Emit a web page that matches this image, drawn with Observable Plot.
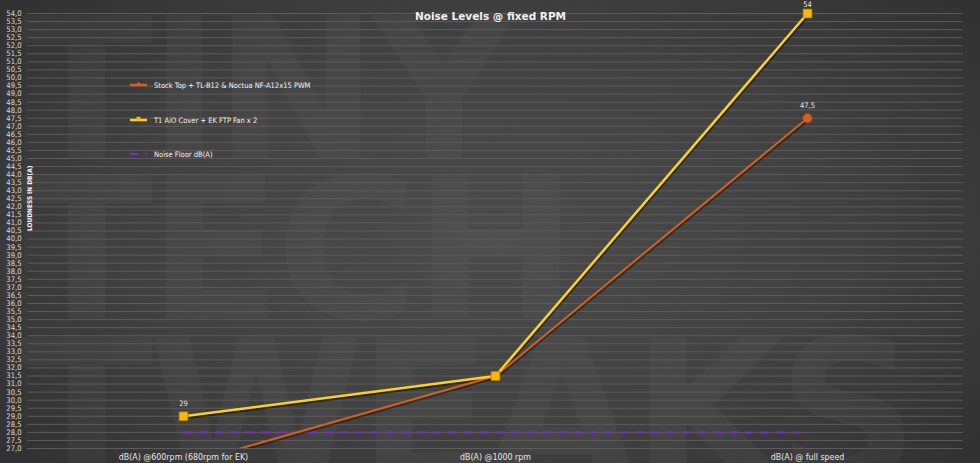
<!DOCTYPE html>
<html>
<head>
<meta charset="utf-8">
<script src="https://cdn.jsdelivr.net/npm/d3@7"></script>
<script src="https://cdn.jsdelivr.net/npm/@observablehq/plot@0.6"></script>
<style>
  html, body { margin: 0; padding: 0; background: #2b2b2b; }
  #wrap {
    position: relative; width: 980px; height: 463px; overflow: hidden;
    background: radial-gradient(ellipse 72% 85% at 50% 50%, #4b4b4b 0%, #414141 50%, #2d2d2d 100%);
    font-family: "Liberation Sans Narrow", "DejaVu Sans Condensed", "Liberation Sans", sans-serif;
  }
  .wm {
    position: absolute; left: 20px; margin: 0; white-space: nowrap;
    font-family: "DejaVu Sans", sans-serif; font-weight: bold; font-size: 196px; line-height: 1;
    color: rgba(255,255,255,0.03); letter-spacing: -6px;
  }
  #chart { position: absolute; left: 0; top: 0; }
  #legend { position: absolute; left: 130px; top: 0; width: 300px; height: 170px; color: #f2f2f2; font-size: 7.5px; }
  .li { position: absolute; left: 0; display: flex; align-items: center; white-space: nowrap; }
  .li svg { margin-right: 7px; }
</style>
</head>
<body>
<div id="wrap">
  <div class="wm" style="top:-8px">TINY</div>
  <div class="wm" style="top:152px">TECH</div>
  <div class="wm" style="top:314px">TWEAKS</div>
  <div id="chart"></div>
  <div id="legend"></div>
</div>
<script>
const categories = ["dB(A) @600rpm (680rpm for EK)", "dB(A) @1000 rpm", "dB(A) @ full speed"];
const stockTop = [26, 31.5, 47.5];
const t1Aio = [29, 31.5, 54];
const noiseFloor = [28, 28, 28];
const seriesNames = ["Stock Top + TL-B12 & Noctua NF-A12x15 PWM", "T1 AiO Cover + EK FTP Fan x 2", "Noise Floor dB(A)"];
const yTicks = d3.range(27, 54.001, 0.5);
const title = "Noise Levels @ fixed RPM";
const yTitle = "LOUDNESS IN DB(A)";

const orange = "#d4601c", yellow = "#ffd21a", yellowMark = "#f7b80a", purple = "#7a2fc0";
const fmt = d => d.toFixed(1).replace(".", ",");
const lbl = v => String(v).replace(".", ",");

const table = categories.map((c, i) => ({cat: c, stock: stockTop[i], t1: t1Aio[i], floor: noiseFloor[i]}));
const lastIdx = categories.length - 1;

const chart = Plot.plot({
  width: 980, height: 463,
  marginLeft: 27, marginRight: 17, marginTop: 13, marginBottom: 15,
  style: {background: "transparent", fontFamily: '"Liberation Sans Narrow", "DejaVu Sans Condensed", "Liberation Sans", sans-serif', overflow: "visible"},
  x: {type: "point", domain: categories, padding: 0.5, axis: null},
  y: {domain: [27, 54], axis: null},
  marks: [
    Plot.gridY(yTicks, {stroke: "#5c5c5c", strokeOpacity: 1, strokeWidth: 1}),
    Plot.axisY(yTicks, {tickSize: 0, tickPadding: 6, tickFormat: fmt, fontSize: 7.6, fill: "#dcdcdc", label: null}),
    Plot.axisX({tickSize: 0, tickPadding: 5, fontSize: 8.8, fill: "#e6e6e6", label: null}),
    Plot.text([yTitle], {frameAnchor: "left", rotate: -90, dx: 2, fontSize: 6.5, fontWeight: "bold", fill: "#f4f4f4"}),
    Plot.text([title], {frameAnchor: "top", dx: -5, dy: 6, fontSize: 10.5, fontWeight: "bold", fill: "#f2f2f2",
      fontFamily: '"DejaVu Sans", sans-serif', lineAnchor: "bottom", letterSpacing: "0.4px"}),
    Plot.lineY(table, {x: "cat", y: "floor", stroke: purple, strokeWidth: 2, strokeDasharray: "8,7.6"}),
    // shadows
    Plot.lineY(table, {x: "cat", y: "stock", stroke: "#000", strokeOpacity: 0.35, strokeWidth: 2.5, dx: 1, dy: 1.5, clip: true}),
    Plot.lineY(table, {x: "cat", y: "t1", stroke: "#000", strokeOpacity: 0.45, strokeWidth: 3.5, dx: 0.5, dy: 1.5, clip: true}),
    Plot.lineY(table, {x: "cat", y: "stock", stroke: orange, strokeWidth: 2, clip: true}),
    Plot.dot(table.filter(d => d.stock >= 27), {x: "cat", y: "stock", r: 4.6, fill: orange, stroke: "#b04a10", strokeWidth: 0.8}),
    Plot.lineY(table, {x: "cat", y: "t1", stroke: yellow, strokeWidth: 2.5, clip: true}),
    Plot.dot(table, {x: "cat", y: "t1", symbol: "square", r: 5, fill: yellowMark, stroke: "#a87a00", strokeWidth: 0.8}),
    Plot.text(table.filter((d, i) => i === 0), {x: "cat", y: "t1", text: d => lbl(d.t1), dy: -13, fontSize: 7.5, fill: "#e8e8e8"}),
    Plot.text(table.filter((d, i) => i === lastIdx), {x: "cat", y: "t1", text: d => lbl(d.t1), dy: -8.5, fontSize: 7.5, fill: "#e8e8e8"}),
    Plot.text(table.filter((d, i) => i === lastIdx), {x: "cat", y: "stock", text: d => lbl(d.stock), dy: -12.5, fontSize: 7.5, fill: "#e8e8e8"})
  ]
});
document.getElementById("chart").appendChild(chart);

// legend
const legendItems = [
  {name: seriesNames[0], color: orange, kind: "circle", top: 80},
  {name: seriesNames[1], color: yellow, kind: "square", top: 115},
  {name: seriesNames[2], color: purple, kind: "dash", top: 149}
];
const legend = d3.select("#legend");
for (const it of legendItems) {
  const row = legend.append("div").attr("class", "li").style("top", it.top + "px");
  const s = row.append("svg").attr("width", 17).attr("height", 10);
  if (it.kind === "dash") {
    s.append("line").attr("x1", 0).attr("x2", 17).attr("y1", 5).attr("y2", 5)
      .attr("stroke", it.color).attr("stroke-width", 2).attr("stroke-dasharray", "8.5,7");
  } else {
    s.append("line").attr("x1", 0).attr("x2", 17).attr("y1", 5).attr("y2", 5)
      .attr("stroke", it.color).attr("stroke-width", 2.5);
    if (it.kind === "circle") s.append("circle").attr("cx", 8.5).attr("cy", 4).attr("r", 1.8).attr("fill", it.color);
    else s.append("rect").attr("x", 6.5).attr("y", 1.8).attr("width", 4).attr("height", 3.5).attr("fill", yellowMark);
  }
  row.append("span").text(it.name);
}
</script>
</body>
</html>
